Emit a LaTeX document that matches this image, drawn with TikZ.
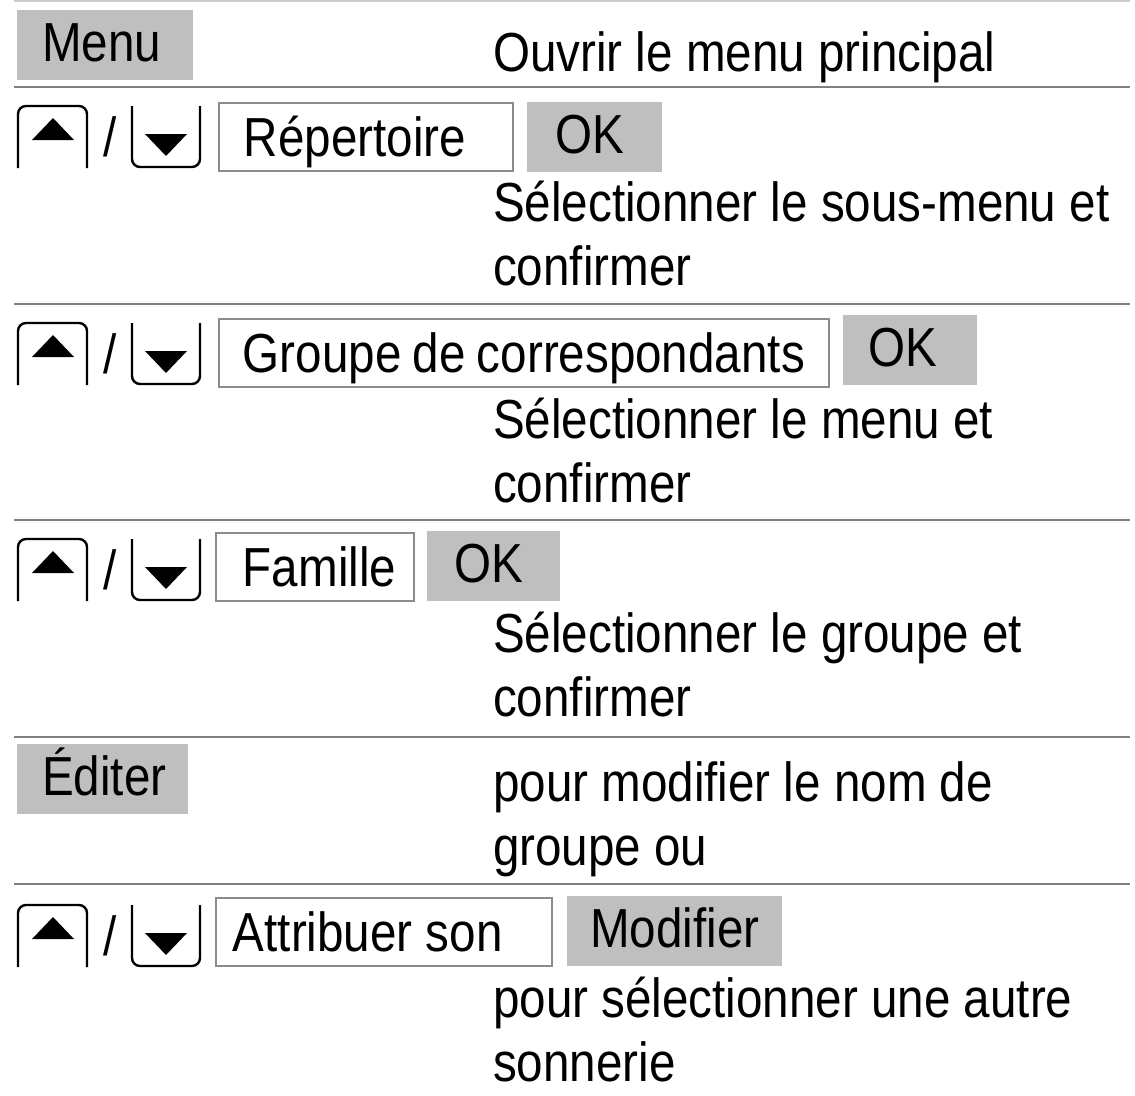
\documentclass[tikz,border=0pt]{standalone}
\usepackage{fontspec}
\setmainfont{Liberation Sans}[FakeStretch=0.865]
\begin{document}
\begin{tikzpicture}[x=1pt, y=-1pt,
	every node/.style = {font=\fontsize{55}{64}\selectfont, inner sep=0pt},
	softkey/.style = {anchor=north west, fill=black!25, inner xsep=25pt, inner ysep=2pt,
		text height=49pt, text depth=17pt,
		execute at begin node={\hbox to #1\bgroup}, execute at end node={\hfil\egroup}},
	menuitem/.style = {anchor=north west, draw=black!45, line width=1.8pt, inner xsep=25pt, inner ysep=2pt,
		text height=52pt, text depth=12pt,
		execute at begin node={\hbox to #1\bgroup}, execute at end node={\hfil\egroup}},
	hint/.style = {anchor=base west, align=left},
	sep/.style = {draw=black!50, line width=2pt},
	keyframe/.style = {draw=black, line width=2.4pt, rounded corners=8pt}]
	\useasboundingbox (0,0) rectangle (1135,1095);
	\draw[sep, draw=black!20] (14,1) -- (1130,1);
	\foreach \y in {87,304,520,737,884}
		\draw[sep] (14,\y) -- (1130,\y);
	\foreach \y in {106,323,539,905} {
		\draw[keyframe] (18,\y+62) -- (18,\y) -- (87,\y) -- (87,\y+62);
		\fill (32,\y+34) -- (53,\y+12) -- (74,\y+34) -- cycle;
		\node (sl\y) at (103,\y+50) [anchor=base west] {/};
		\draw[keyframe] (132,\y) -- (132,\y+61) -- (200,\y+61) -- (200,\y);
		\fill (145,\y+28) -- (187,\y+28) -- (166,\y+50) -- cycle;
	}
	\node (menu) at (17,10)	[softkey=126pt]	{Menu};
	\node (ouvrir) at (493,71)	[hint]	{Ouvrir le menu principal};
	\node (rep) at (218,102)	[menuitem=244pt]	{Répertoire};
	\node (okrep) at (527,102)	[softkey=79pt, inner xsep=28pt]	{OK};
	\node (selsub) at (493,285)	[hint]	{Sélectionner le sous-menu et\\confirmer};
	\node (groupe) at (218,318)	[menuitem=562pt, inner xsep=24pt]	{Groupe de correspondants};
	\node (okgrp) at (843,315)	[softkey=84pt]	{OK};
	\node (selmenu) at (493,502)	[hint]	{Sélectionner le menu et\\confirmer};
	\node (famille) at (215,532)	[menuitem=144pt, inner xsep=27pt]	{Famille};
	\node (okfam) at (427,531)	[softkey=79pt, inner xsep=27pt]	{OK};
	\node (selgrp) at (493,716)	[hint]	{Sélectionner le groupe et\\confirmer};
	\node (editer) at (17,744)	[softkey=121pt]	{Éditer};
	\node (modnom) at (493,865)	[hint]	{pour modifier le nom de\\groupe ou};
	\node (attrib) at (215,897)	[menuitem=302pt, inner xsep=17pt]	{Attribuer son};
	\node (modif) at (567,896)	[softkey=169pt, inner xsep=23pt]	{Modifier};
	\node (selson) at (493,1081)	[hint]	{pour sélectionner une autre\\sonnerie};
\end{tikzpicture}
\end{document}
